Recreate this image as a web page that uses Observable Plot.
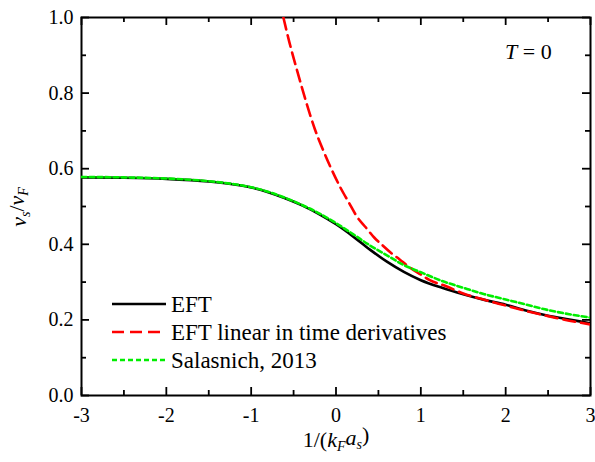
<!DOCTYPE html>
<html>
<head>
<meta charset="utf-8">
<script src="https://cdn.jsdelivr.net/npm/d3@7"></script>
<script src="https://cdn.jsdelivr.net/npm/@observablehq/plot@0.6"></script>
<style>
  html, body { margin: 0; padding: 0; background: #fff; overflow: hidden; }
  #chart svg { display: block; }
</style>
</head>
<body>
<div id="chart"></div>
<script>
// ---- data ----
const seriesNames = ["EFT", "EFT linear in time derivatives", "Salasnich, 2013"];
const seriesColors = ["#000000", "#ff0000", "#00ee00"];
const seriesDash = [null, "12,6", "5,3"];

const eftX = [-3, -2.5, -2, -1.5, -1.2, -1.0, -0.8, -0.6, -0.4, -0.2, 0, 0.2, 0.4, 0.6, 0.8, 1.0, 1.25, 1.5, 1.75, 2.0, 2.25, 2.5, 2.75, 3.0];
const eftY = [0.577, 0.576, 0.573, 0.566, 0.558, 0.550, 0.538, 0.522, 0.503, 0.480, 0.453, 0.421, 0.386, 0.354, 0.327, 0.305, 0.285, 0.268, 0.253, 0.240, 0.224, 0.211, 0.201, 0.191];

const linX = [-0.62, -0.55, -0.45, -0.35, -0.25, -0.15, -0.05, 0.05, 0.15, 0.25, 0.35, 0.45, 0.55, 0.65, 0.75, 0.85, 1.0, 1.1, 1.3, 1.5, 1.75, 2.0, 2.25, 2.5, 2.75, 3.0];
const linY = [1.0, 0.935, 0.853, 0.775, 0.705, 0.648, 0.597, 0.551, 0.511, 0.472, 0.445, 0.418, 0.397, 0.377, 0.360, 0.342, 0.320, 0.306, 0.289, 0.270, 0.253, 0.238, 0.223, 0.210, 0.198, 0.188];

const salX = [-3, -2.5, -2, -1.5, -1.2, -1.0, -0.8, -0.6, -0.4, -0.2, 0, 0.2, 0.4, 0.6, 0.8, 1.0, 1.25, 1.5, 1.75, 2.0, 2.25, 2.5, 2.75, 3.0];
const salY = [0.578, 0.577, 0.574, 0.567, 0.559, 0.551, 0.539, 0.523, 0.504, 0.482, 0.456, 0.427, 0.397, 0.371, 0.345, 0.326, 0.303, 0.285, 0.268, 0.254, 0.240, 0.226, 0.215, 0.206];

const xMajor = [-3, -2, -1, 0, 1, 2, 3];
const xMinor = [-2.5, -1.5, -0.5, 0.5, 1.5, 2.5];
const yMajor = [0, 0.2, 0.4, 0.6, 0.8, 1.0];
const yMinor = [0.1, 0.3, 0.5, 0.7, 0.9];

// ---- layout ----
const W = 595, H = 462;
const mt = 17, mb = 67, ml = 81, mr = 5;
const ph = H - mt - mb, pw = W - ml - mr;
const xDom = [-3, 3], yDom = [0, 1];
const ux = (xDom[1] - xDom[0]) / pw, uy = (yDom[1] - yDom[0]) / ph;
const font = "Liberation Serif";

const toRows = (xs, ys, k) => xs.map((x, i) => ({x, y: ys[i], s: seriesNames[k]}));
const series = [toRows(eftX, eftY, 0), toRows(linX, linY, 1), toRows(salX, salY, 2)];

const lineMarks = series.map((rows, k) => Plot.line(rows, {
  x: "x", y: "y", stroke: seriesColors[k], strokeWidth: 2.6,
  strokeDasharray: seriesDash[k], curve: "monotone-x", clip: true
}));

// inside ticks on all four sides (lengths in px converted to data units)
const tk = {stroke: "#000", strokeWidth: 1.8};
const tickMarks = [
  Plot.ruleX(xMajor, {x: d => d, y1: yDom[0], y2: yDom[0] + 8 * uy, ...tk}),
  Plot.ruleX(xMinor, {x: d => d, y1: yDom[0], y2: yDom[0] + 5 * uy, ...tk}),
  Plot.ruleX(xMajor, {x: d => d, y1: yDom[1], y2: yDom[1] - 8 * uy, ...tk}),
  Plot.ruleX(xMinor, {x: d => d, y1: yDom[1], y2: yDom[1] - 5 * uy, ...tk}),
  Plot.ruleY(yMajor, {y: d => d, x1: xDom[0], x2: xDom[0] + 8 * ux, ...tk}),
  Plot.ruleY(yMinor, {y: d => d, x1: xDom[0], x2: xDom[0] + 5 * ux, ...tk}),
  Plot.ruleY(yMajor, {y: d => d, x1: xDom[1], x2: xDom[1] - 8 * ux, ...tk}),
  Plot.ruleY(yMinor, {y: d => d, x1: xDom[1], x2: xDom[1] - 5 * ux, ...tk})
];

const svg = Plot.plot({
  width: W, height: H,
  marginTop: mt, marginBottom: mb, marginLeft: ml, marginRight: mr,
  style: {fontFamily: font, fontSize: "20px", color: "#000", background: "#fff"},
  x: {domain: xDom, ticks: xMajor, tickFormat: d => String(d), tickSize: 0, tickPadding: 12, label: null},
  y: {domain: yDom, ticks: yMajor, tickFormat: d3.format(".1f"), tickSize: 0, tickPadding: 8, label: null},
  marks: [
    Plot.frame({stroke: "#000", strokeWidth: 2}),
    ...lineMarks,
    ...tickMarks
  ]
});

const s = d3.select(svg);

// x axis label: 1/(k_F a_s)
const xl = s.append("text").attr("x", 336).attr("y", 447).attr("text-anchor", "middle")
  .style("font-size", "22px").style("font-family", font).attr("fill", "#000");
xl.append("tspan").text("1/(");
xl.append("tspan").style("font-style", "italic").text("k");
xl.append("tspan").style("font-style", "italic").style("font-size", "14px").attr("dy", "0.3em").text("F");
xl.append("tspan").style("font-style", "italic").attr("dy", "-0.3em").text("a");
xl.append("tspan").style("font-style", "italic").style("font-size", "14px").attr("dy", "0.3em").text("s");
xl.append("tspan").attr("dy", "-0.3em").text(")");

// y axis label: v_s/v_F
const yl = s.append("text").attr("transform", "translate(26,207) rotate(-90)").attr("text-anchor", "middle")
  .style("font-size", "22px").style("font-family", font).attr("fill", "#000");
yl.append("tspan").style("font-style", "italic").text("v");
yl.append("tspan").style("font-style", "italic").style("font-size", "14px").attr("dy", "0.3em").text("s");
yl.append("tspan").attr("dy", "-0.3em").text("/");
yl.append("tspan").style("font-style", "italic").text("v");
yl.append("tspan").style("font-style", "italic").style("font-size", "14px").attr("dy", "0.3em").text("F");

// annotation T = 0
const ta = s.append("text").attr("x", 505).attr("y", 59).attr("text-anchor", "start")
  .style("font-size", "22px").style("font-family", font).attr("fill", "#000");
ta.append("tspan").style("font-style", "italic").text("T");
ta.append("tspan").text(" = 0");

// legend
const lg = s.append("g").attr("class", "legend");
seriesNames.forEach((name, k) => {
  const yy = 304 + k * 28;
  lg.append("line").attr("x1", 112).attr("x2", 166).attr("y1", yy).attr("y2", yy)
    .attr("stroke", seriesColors[k]).attr("stroke-width", 2.6)
    .attr("stroke-dasharray", seriesDash[k]);
  lg.append("text").attr("x", 171).attr("y", yy).attr("dy", "0.35em").attr("text-anchor", "start")
    .style("font-size", "23px").style("font-family", font).attr("fill", "#000").text(name);
});

document.getElementById("chart").appendChild(svg);
</script>
</body>
</html>
